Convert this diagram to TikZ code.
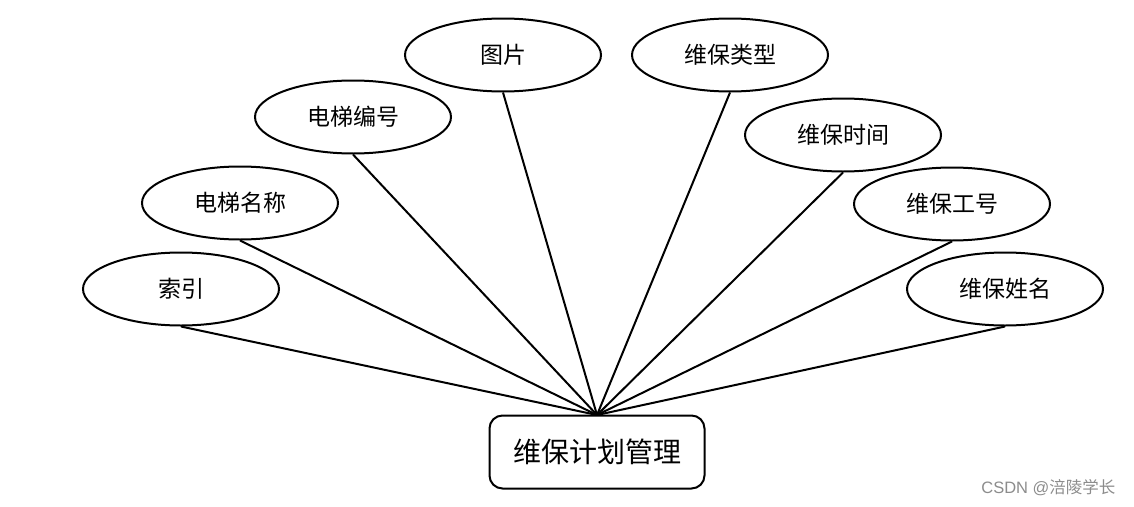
\documentclass[tikz,border=0pt]{standalone}
\usepackage{fontspec}
\newfontfamily\cjk{Noto Sans CJK SC}
\usetikzlibrary{shapes.geometric}
\begin{document}
\begin{tikzpicture}[x=1pt,y=-1pt,
  attr/.style={draw=black,line width=2pt,ellipse,minimum width=196pt,minimum height=73pt,inner sep=0pt,font=\cjk\fontsize{23}{23}\selectfont},
  ent/.style={draw=black,line width=2pt,rounded corners=13pt,minimum width=215pt,minimum height=73pt,inner sep=0pt,font=\cjk\fontsize{28}{28}\selectfont},
  link/.style={line width=2pt}]
\useasboundingbox (0,0) rectangle (1134,506);
\node[ent] (m) at (597,452) {维保计划管理};
\node[attr] (a1) at (181,289) {索引};
\node[attr] (a2) at (240,203) {电梯名称};
\node[attr] (a3) at (353,117) {电梯编号};
\node[attr] (a4) at (503,55) {图片};
\node[attr] (a5) at (730,55) {维保类型};
\node[attr] (a6) at (843,135) {维保时间};
\node[attr] (a7) at (952,204) {维保工号};
\node[attr] (a8) at (1005,289) {维保姓名};
\coordinate (hub) at (597,415);
\foreach \n in {a1,a2,a3,a4,a5,a6,a7,a8}{\draw[link] (\n.south) -- (hub);}
\node[text=black!45,font=\fontspec{Liberation Sans}\fontsize{16.5}{16.5}\selectfont,anchor=east] (wm) at (1119,488) {CSDN @{\cjk 涪陵学长}};
\end{tikzpicture}
\end{document}
